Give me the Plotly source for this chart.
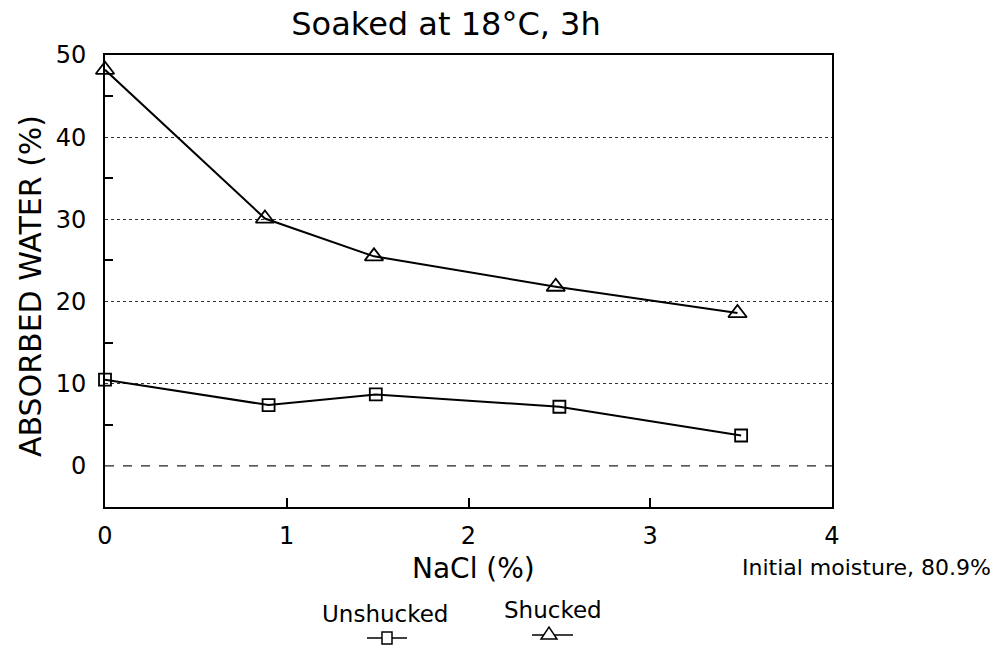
import plotly.graph_objects as go

# ---- data ----
nacl_shucked = [0.0, 0.88, 1.48, 2.48, 3.48]
water_shucked = [48.2, 30.1, 25.5, 21.8, 18.6]
nacl_unshucked = [0.0, 0.9, 1.49, 2.5, 3.5]
water_unshucked = [10.5, 7.4, 8.7, 7.2, 3.7]
x_ticks = [0, 1, 2, 3, 4]
y_ticks = [0, 10, 20, 30, 40, 50]
y_minor = [5, 15, 25, 35, 45]

W, H = 1005, 648
L, R, T, B = 105, 832, 55, 507
FONT = "DejaVu Sans, sans-serif"


def px(xp):
    return (xp - L) / (R - L)


def py(yp):
    return (B - yp) / (B - T)


fig = go.Figure()
fig.add_trace(go.Scatter(
    x=nacl_unshucked, y=water_unshucked, mode="lines+markers", name="Unshucked",
    line=dict(color="black", width=2),
    marker=dict(symbol="square-open", size=12, color="black", line=dict(width=1.8)),
    showlegend=False, cliponaxis=False))
fig.add_trace(go.Scatter(
    x=nacl_shucked, y=water_shucked, mode="lines+markers", name="Shucked",
    line=dict(color="black", width=2),
    marker=dict(symbol="triangle-up-open", size=16, color="black", line=dict(width=1.8)),
    showlegend=False, cliponaxis=False))

shapes = []
# dashed zero line
shapes.append(dict(type="line", xref="paper", yref="y", x0=0, x1=1, y0=0, y1=0,
                   line=dict(color="white", width=2)))
shapes.append(dict(type="line", xref="paper", yref="y", x0=0, x1=1, y0=0, y1=0,
                   line=dict(color="#222", width=1.3, dash="dash")))

# legend glyphs (line with marker below the label)
for cx, cy, lx0, lx1, sym in [(387, 638, 367, 407, "square"), (549, 635, 532, 573, "triangle")]:
    shapes.append(dict(type="line", xref="paper", yref="paper",
                       x0=px(lx0), x1=px(lx1), y0=py(cy), y1=py(cy),
                       line=dict(color="black", width=1.5)))
    if sym == "square":
        shapes.append(dict(type="rect", xref="paper", yref="paper",
                           xsizemode="pixel", ysizemode="pixel",
                           xanchor=px(cx), yanchor=py(cy),
                           x0=-5, x1=5, y0=-6, y1=6,
                           fillcolor="white", line=dict(color="black", width=1.5)))
    else:
        shapes.append(dict(type="path", xref="paper", yref="paper",
                           xsizemode="pixel", ysizemode="pixel",
                           xanchor=px(cx), yanchor=py(cy),
                           path="M -8,-4 L 8,-4 L 0,8 Z",
                           fillcolor="white", line=dict(color="black", width=1.5)))

annotations = [
    dict(text="Unshucked", xref="paper", yref="paper", x=px(385), y=py(614),
         showarrow=False, font=dict(size=23, family=FONT, color="black"),
         xanchor="center", yanchor="middle"),
    dict(text="Shucked", xref="paper", yref="paper", x=px(553), y=py(610),
         showarrow=False, font=dict(size=23, family=FONT, color="black"),
         xanchor="center", yanchor="middle"),
    dict(text="Initial moisture, 80.9%", xref="paper", yref="paper", x=px(866), y=py(567),
         showarrow=False, font=dict(size=22, family=FONT, color="black"),
         xanchor="center", yanchor="middle"),
    dict(text="NaCl (%)", xref="paper", yref="paper", x=px(473), y=py(568),
         showarrow=False, font=dict(size=28, family=FONT, color="black"),
         xanchor="center", yanchor="middle"),
    dict(text="ABSORBED WATER (%)", xref="paper", yref="paper", x=px(30), y=py(286),
         showarrow=False, textangle=-90, font=dict(size=30, family=FONT, color="black"),
         xanchor="center", yanchor="middle"),
]

fig.update_layout(
    width=W, height=H,
    margin=dict(l=L, r=W - R, t=T, b=H - B, autoexpand=False),
    paper_bgcolor="white", plot_bgcolor="white",
    font=dict(family=FONT, color="black"),
    title=dict(text="Soaked at 18°C, 3h", x=px(446), xref="paper", xanchor="center",
               y=1 - 24 / H, yanchor="middle", font=dict(size=32, family=FONT)),
    shapes=shapes, annotations=annotations,
)

fig.update_xaxes(
    range=[0, 4], tickvals=x_ticks, ticktext=[str(v) for v in x_ticks],
    showgrid=False, zeroline=False,
    showline=True, linecolor="black", linewidth=2, mirror=True,
    ticks="inside", ticklen=9, tickwidth=1.5, tickcolor="black",
    ticklabelstandoff=6,
    tickfont=dict(size=24, family=FONT),
)
fig.update_yaxes(
    range=[-5, 50], tickvals=y_ticks, ticktext=[str(v) for v in y_ticks],
    showgrid=True, gridcolor="#333", griddash="dot", gridwidth=1,
    zeroline=False,
    showline=True, linecolor="black", linewidth=2, mirror=True,
    ticks="", tickfont=dict(size=24, family=FONT),
    ticklabelstandoff=12,
    minor=dict(tickvals=y_minor, ticks="inside", ticklen=8, tickwidth=1.5,
               tickcolor="black", showgrid=False),
)

fig.write_html("out.html")
